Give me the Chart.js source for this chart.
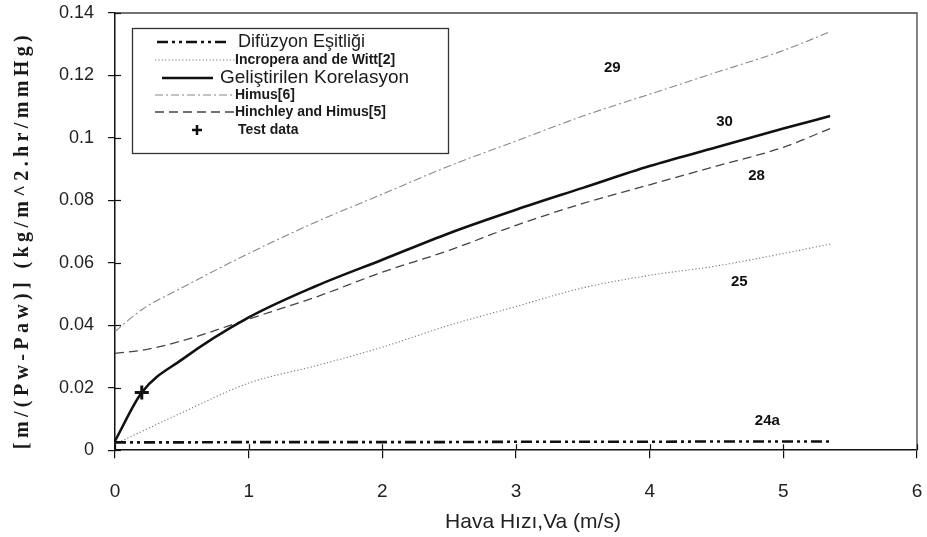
<!DOCTYPE html>
<html>
<head>
<meta charset="utf-8">
<script src="https://cdn.jsdelivr.net/npm/chart.js@4.4.1/dist/chart.umd.min.js"></script>
<style>
html,body{margin:0;padding:0;background:#fff;}
#wrap{width:927px;height:537px;}
</style>
</head>
<body>
<div id="wrap"><canvas id="c" width="927" height="537"></canvas></div>
<script>
// ---- data ----
const velocity = [0, 0.2, 0.5, 1, 1.5, 2, 2.5, 3, 3.5, 4, 4.5, 5, 5.35];
const difuzyon   = [0.0025, 0.0025, 0.0025, 0.0026, 0.0026, 0.0026, 0.0026, 0.0027, 0.0027, 0.0027, 0.0028, 0.0028, 0.0028];
const incropera  = [0.002, 0.006, 0.012, 0.0215, 0.027, 0.033, 0.040, 0.046, 0.052, 0.056, 0.059, 0.063, 0.066];
const korelasyon = [0.003, 0.0185, 0.029, 0.0425, 0.0525, 0.061, 0.0695, 0.077, 0.084, 0.091, 0.097, 0.103, 0.107];
const himus      = [0.038, 0.045, 0.052, 0.063, 0.073, 0.082, 0.091, 0.099, 0.107, 0.114, 0.121, 0.128, 0.134];
const hinchley   = [0.031, 0.032, 0.035, 0.042, 0.049, 0.057, 0.064, 0.072, 0.079, 0.085, 0.091, 0.097, 0.103];
const testX = [0.2];
const testY = [0.0185];
const seriesNames = ["Difüzyon Eşitliği", "Incropera and de Witt[2]", "Geliştirilen Korelasyon", "Himus[6]", "Hinchley and Himus[5]", "Test data"];
const xTicks = [0, 1, 2, 3, 4, 5, 6];
const yTicks = [0, 0.02, 0.04, 0.06, 0.08, 0.1, 0.12, 0.14];
const curveLabels = ["29", "30", "28", "25", "24a"];
const curveLabelX = [3.72, 4.56, 4.80, 4.67, 4.88];
const curveLabelY = [0.1224, 0.105, 0.088, 0.054, 0.0094];
const xTitle = "Hava Hızı,Va (m/s)";
const yTitle = "[m/(Pw-Paw)] (kg/m^2.hr/mmHg)";

const pts = (xs, ys) => xs.map((x, i) => ({x: x, y: ys[i]}));

const SANS = "'Liberation Sans', Arial, sans-serif";

const datasets = [
  {label: seriesNames[0], data: pts(velocity, difuzyon), borderColor: '#111', borderWidth: 2.6, borderDash: [11, 4, 3, 4, 3, 4], pointRadius: 0, fill: false},
  {label: seriesNames[1], data: pts(velocity, incropera), borderColor: '#777', borderWidth: 1.1, borderDash: [1.2, 2.2], pointRadius: 0, fill: false, cubicInterpolationMode: 'monotone'},
  {label: seriesNames[2], data: pts(velocity, korelasyon), borderColor: '#111', borderWidth: 2.6, pointRadius: 0, fill: false, cubicInterpolationMode: 'monotone'},
  {label: seriesNames[3], data: pts(velocity, himus), borderColor: '#888', borderWidth: 1.1, borderDash: [8, 3, 2, 3], pointRadius: 0, fill: false, cubicInterpolationMode: 'monotone'},
  {label: seriesNames[4], data: pts(velocity, hinchley), borderColor: '#444', borderWidth: 1.3, borderDash: [9, 5], pointRadius: 0, fill: false, cubicInterpolationMode: 'monotone'},
  {label: seriesNames[5], data: pts(testX, testY), showLine: false, borderColor: '#111', backgroundColor: '#111', pointStyle: 'cross', pointRadius: 7, borderWidth: 3}
];

// legend row styles
const legendFonts = ["18px " + SANS, "bold 14px " + SANS, "19px " + SANS, "bold 14px " + SANS, "bold 14px " + SANS, "bold 14px " + SANS];
const legendTextX = [238, 235, 220, 235, 235, 238];
const legendRowY  = [42, 60, 78, 95, 112, 130];
const legendSample = [[157, 227], [155, 235], [162, 213], [155, 235], [155, 235], [197, 197]];

const decor = {
  id: 'decor',
  afterDatasetsDraw(chart) {
    const ctx = chart.ctx, a = chart.chartArea;
    const xs = chart.scales.x, ys = chart.scales.y;
    ctx.save();
    // frame top and right
    ctx.strokeStyle = '#444'; ctx.lineWidth = 1.3;
    ctx.beginPath(); ctx.moveTo(a.left, a.top); ctx.lineTo(a.right, a.top); ctx.lineTo(a.right, a.bottom); ctx.stroke();
    // inner tick stubs
    ctx.strokeStyle = '#111'; ctx.lineWidth = 1.2;
    yTicks.forEach(v => { const py = Math.round(ys.getPixelForValue(v)) + 0.5; ctx.beginPath(); ctx.moveTo(a.left, py); ctx.lineTo(a.left + 6, py); ctx.stroke(); });
    xTicks.forEach(v => { const px = Math.round(xs.getPixelForValue(v)) + 0.5; ctx.beginPath(); ctx.moveTo(px, a.bottom); ctx.lineTo(px, a.bottom - 6); ctx.stroke(); });
    // curve labels
    ctx.fillStyle = '#111'; ctx.font = "bold 15px " + SANS; ctx.textAlign = 'center'; ctx.textBaseline = 'middle';
    curveLabels.forEach((t, i) => ctx.fillText(t, xs.getPixelForValue(curveLabelX[i]), ys.getPixelForValue(curveLabelY[i])));
    // legend box
    ctx.fillStyle = '#fff'; ctx.fillRect(132, 28, 316, 125);
    ctx.strokeStyle = '#333'; ctx.lineWidth = 1.3; ctx.strokeRect(132.5, 28.5, 316, 125);
    chart.data.datasets.forEach((ds, i) => {
      const y = legendRowY[i];
      const s = legendSample[i];
      ctx.save();
      if (ds.showLine === false) {
        ctx.strokeStyle = ds.borderColor; ctx.lineWidth = 2.5;
        ctx.beginPath(); ctx.moveTo(s[0] - 5, y); ctx.lineTo(s[0] + 5, y); ctx.moveTo(s[0], y - 5); ctx.lineTo(s[0], y + 5); ctx.stroke();
      } else {
        ctx.strokeStyle = ds.borderColor; ctx.lineWidth = ds.borderWidth;
        ctx.setLineDash(ds.borderDash || []);
        ctx.beginPath(); ctx.moveTo(s[0], y); ctx.lineTo(s[1], y); ctx.stroke();
      }
      ctx.restore();
      ctx.fillStyle = '#1a1a1a'; ctx.font = legendFonts[i]; ctx.textAlign = 'left'; ctx.textBaseline = 'middle';
      ctx.fillText(ds.label, legendTextX[i], y);
    });
    // axis titles
    ctx.fillStyle = '#222'; ctx.font = "21px " + SANS; ctx.textAlign = 'center'; ctx.textBaseline = 'middle';
    ctx.fillText(xTitle, 533, 522);
    ctx.save();
    ctx.translate(23, 240); ctx.rotate(-Math.PI / 2);
    ctx.font = "bold 20px 'Liberation Serif', serif";
    const w = ctx.measureText(yTitle).width;
    const sp = Math.max(0, (414 - w) / (yTitle.length - 1));
    ctx.letterSpacing = sp.toFixed(2) + 'px';
    ctx.fillStyle = '#1a1a1a'; ctx.textAlign = 'center';
    ctx.fillText(yTitle, 0, 0);
    ctx.restore();
    ctx.restore();
  }
};

const noEdgePad = s => { s.paddingLeft = 0; s.paddingRight = 0; s.paddingTop = 0; s.paddingBottom = 0; };

new Chart(document.getElementById('c'), {
  type: 'line',
  data: {datasets: datasets},
  options: {
    responsive: false,
    animation: false,
    layout: {padding: {left: 45, right: 5, top: 13, bottom: 12}},
    plugins: {legend: {display: false}, tooltip: {enabled: false}},
    scales: {
      x: {
        type: 'linear', min: 0, max: 6,
        afterBuildTicks: s => { s.ticks = xTicks.map(v => ({value: v})); },
        afterFit: noEdgePad,
        ticks: {color: '#222', font: {family: SANS, size: 19}, padding: 22, maxRotation: 0},
        grid: {drawOnChartArea: false, tickLength: 8, color: '#111', lineWidth: 1.2},
        border: {color: '#111', width: 1.5}
      },
      y: {
        min: 0, max: 0.14,
        afterBuildTicks: s => { s.ticks = yTicks.map(v => ({value: v})); },
        afterFit: noEdgePad,
        ticks: {color: '#222', font: {family: SANS, size: 18}, padding: 14, callback: v => String(parseFloat(v.toFixed(2)))},
        grid: {drawOnChartArea: false, tickLength: 7, color: '#111', lineWidth: 1.2},
        border: {color: '#111', width: 1.5}
      }
    }
  },
  plugins: [decor]
});
</script>
</body>
</html>
